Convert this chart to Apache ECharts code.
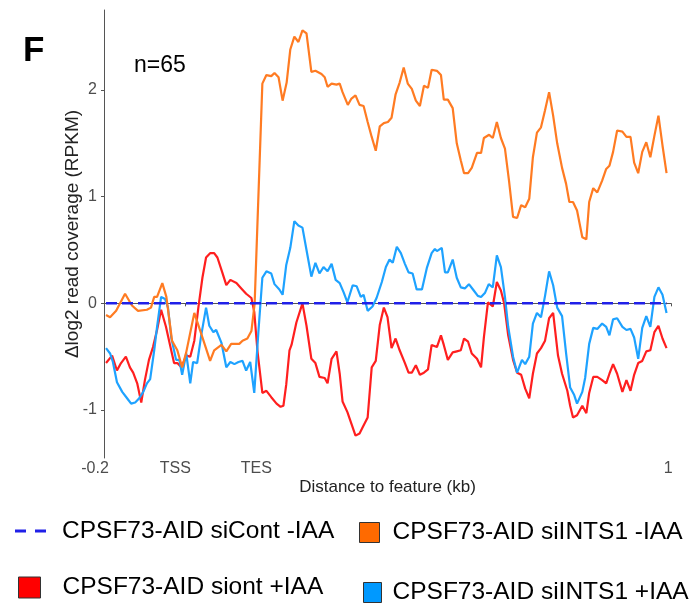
<!DOCTYPE html>
<html>
<head>
<meta charset="utf-8">
<script src="https://cdn.jsdelivr.net/npm/echarts@6/dist/echarts.min.js"></script>
<style>
  html, body { margin: 0; padding: 0; background: #fff; }
  #chart { width: 692px; height: 607px; }
</style>
</head>
<body>
<div id="chart"></div>
<script>
// x is the profile bin: 0 = -0.2 kb, 20 = TSS, 40 = TES, 140 = +1 kb
const tickBins = [0, 20, 40, 140];
const labelBins = [0, 17.6, 37.6, 139.3];
const labelNames = ['-0.2', 'TSS', 'TES', '1'];
const yTicks = [-1, 0, 1, 2];

const seriesNames = [
  'CPSF73-AID siCont -IAA',
  'CPSF73-AID siont +IAA',
  'CPSF73-AID siINTS1 -IAA',
  'CPSF73-AID siINTS1 +IAA'
];

// [bin, delta log2 RPKM]
const siContMinus = [[0.5, 0], [138.9, 0]];

const siContPlus = [
  [0.5,-0.56],[2.0,-0.49],[3.2,-0.63],[4.2,-0.56],[5.4,-0.50],[6.4,-0.60],[7.2,-0.65],[8.2,-0.75],
  [9.2,-0.93],[10.1,-0.72],[11.1,-0.53],[12.1,-0.41],[13.1,-0.25],[14.1,-0.06],[15.3,-0.22],[16.3,-0.39],
  [17.3,-0.56],[18.1,-0.56],[19.1,-0.60],[20.3,-0.49],[21.3,-0.50],[22.3,-0.35],[23.3,-0.04],[24.3,0.24],
  [25.2,0.43],[26.2,0.47],[27.2,0.47],[28.0,0.43],[29.2,0.29],[30.2,0.17],[31.2,0.22],[32.7,0.19],
  [33.9,0.14],[35.1,0.09],[36.4,0.05],[37.1,-0.08],[37.9,-0.45],[39.1,-0.84],[40.1,-0.82],[41.3,-0.88],
  [42.6,-0.94],[43.6,-0.97],[44.3,-0.96],[45.0,-0.76],[45.8,-0.44],[46.3,-0.39],[47.5,-0.18],[49.0,0.0],
  [50.0,-0.21],[51.2,-0.52],[52.2,-0.56],[53.2,-0.69],[54.5,-0.70],[55.2,-0.75],[56.2,-0.52],[57.4,-0.45],
  [58.2,-0.66],[58.9,-0.92],[60.1,-1.02],[61.1,-1.13],[62.1,-1.24],[63.1,-1.22],[63.9,-1.16],[65.1,-1.07],
  [66.1,-0.60],[67.1,-0.54],[68.1,-0.20],[69.1,-0.04],[70.0,-0.13],[71.0,-0.42],[72.0,-0.33],[73.0,-0.44],
  [74.3,-0.56],[75.2,-0.65],[76.0,-0.65],[77.0,-0.58],[78.0,-0.67],[79.0,-0.65],[80.0,-0.62],[80.9,-0.39],
  [82.2,-0.41],[83.2,-0.30],[83.9,-0.39],[84.9,-0.53],[86.1,-0.46],[87.1,-0.45],[88.1,-0.44],[88.9,-0.33],
  [89.9,-0.36],[90.8,-0.47],[92.1,-0.52],[93.1,-0.60],[93.8,-0.32],[94.8,0.01],[96.0,-0.03],[97.0,0.20],
  [98.0,0.12],[98.8,0.0],[99.8,-0.30],[101.0,-0.53],[102.0,-0.65],[103.0,-0.67],[104.0,-0.80],[105.0,-0.89],
  [105.9,-0.66],[106.9,-0.47],[107.9,-0.42],[108.9,-0.35],[109.9,-0.14],[110.9,-0.09],[112.1,-0.49],[113.1,-0.66],
  [114.4,-0.82],[115.1,-0.96],[115.8,-1.07],[116.8,-1.05],[118.1,-0.96],[119.1,-1.03],[119.8,-0.84],[120.8,-0.69],
  [121.8,-0.69],[123.0,-0.72],[124.0,-0.75],[124.8,-0.66],[125.7,-0.57],[126.7,-0.66],[128.0,-0.83],[129.0,-0.72],
  [130.0,-0.82],[130.9,-0.67],[131.9,-0.56],[132.9,-0.54],[133.9,-0.45],[134.9,-0.44],[135.9,-0.27],[136.9,-0.21],
  [137.9,-0.33],[138.9,-0.42]
];

const siInts1Minus = [
  [0.5,-0.11],[1.5,-0.13],[3.0,-0.07],[5.2,0.09],[6.9,-0.02],[8.4,-0.07],[10.6,-0.06],[11.6,-0.04],
  [12.4,0.06],[13.1,0.06],[14.4,0.19],[15.4,0.06],[16.8,-0.35],[18.1,-0.44],[19.3,-0.60],[20.3,-0.46],
  [22.3,-0.09],[24.3,-0.32],[26.2,-0.54],[27.2,-0.44],[29.0,-0.39],[30.2,-0.45],[31.4,-0.38],[33.4,-0.38],
  [34.2,-0.35],[35.4,-0.33],[36.4,-0.26],[37.2,0.0],[39.1,2.06],[40.1,2.14],[41.3,2.13],[42.1,2.16],
  [43.1,2.12],[44.1,1.90],[45.1,2.07],[46.0,2.38],[47.0,2.50],[48.0,2.45],[49.0,2.56],[50.0,2.53],
  [51.2,2.17],[52.2,2.18],[53.7,2.15],[54.5,2.12],[55.2,2.03],[56.2,2.06],[57.4,2.05],[58.2,2.06],
  [58.9,1.98],[60.2,1.86],[61.1,1.92],[62.1,1.95],[63.1,1.86],[64.1,1.85],[65.1,1.70],[66.1,1.56],
  [67.1,1.43],[68.1,1.66],[69.1,1.69],[70.1,1.70],[71.0,1.74],[72.0,1.96],[73.0,2.07],[74.0,2.21],
  [75.0,2.06],[76.0,2.01],[77.0,1.90],[78.0,1.85],[79.0,2.04],[80.0,2.02],[80.9,2.19],[82.2,2.18],
  [83.2,2.14],[83.9,1.91],[84.9,1.91],[86.1,1.83],[87.1,1.50],[88.1,1.34],[88.9,1.22],[89.9,1.22],
  [90.8,1.27],[92.1,1.41],[93.1,1.41],[93.8,1.55],[95.1,1.58],[96.0,1.55],[97.0,1.70],[98.0,1.55],
  [99.0,1.45],[100.0,1.15],[101.0,0.81],[102.0,0.80],[103.0,0.92],[104.0,0.90],[105.0,0.98],[105.9,1.37],
  [106.9,1.60],[107.9,1.65],[108.9,1.81],[109.9,1.98],[110.9,1.76],[111.9,1.50],[113.1,1.27],[114.1,1.12],
  [114.9,0.95],[115.8,0.95],[116.8,0.87],[118.1,0.62],[119.1,0.60],[119.8,0.95],[120.8,1.08],[121.8,1.04],
  [123.0,1.15],[124.0,1.26],[124.8,1.29],[125.7,1.42],[126.7,1.62],[128.0,1.61],[129.0,1.56],[130.0,1.56],
  [130.9,1.32],[131.9,1.22],[132.9,1.42],[133.9,1.51],[134.9,1.37],[135.9,1.57],[136.9,1.76],[137.9,1.48],
  [138.9,1.22]
];

const siInts1Plus = [
  [0.5,-0.42],[1.5,-0.47],[2.2,-0.55],[3.2,-0.74],[4.5,-0.83],[5.7,-0.89],[6.7,-0.94],[7.7,-0.93],
  [8.7,-0.89],[9.7,-0.83],[10.6,-0.75],[11.4,-0.71],[12.4,-0.44],[13.1,-0.22],[14.1,0.06],[15.1,0.04],
  [15.8,-0.04],[16.6,-0.32],[17.8,-0.53],[18.6,-0.53],[19.3,-0.67],[20.3,-0.47],[21.3,-0.75],[22.0,-0.55],
  [23.0,-0.56],[24.0,-0.30],[25.2,-0.04],[26.0,-0.21],[27.0,-0.27],[27.7,-0.25],[29.0,-0.37],[30.2,-0.60],
  [31.2,-0.55],[32.2,-0.57],[33.2,-0.55],[34.2,-0.54],[35.1,-0.63],[36.1,-0.55],[37.1,-0.84],[38.1,-0.28],
  [39.1,0.24],[40.1,0.30],[41.3,0.28],[42.1,0.18],[43.3,0.13],[44.1,0.08],[45.0,0.36],[46.0,0.52],
  [47.0,0.77],[48.0,0.73],[49.0,0.71],[50.0,0.50],[51.2,0.25],[52.2,0.38],[53.2,0.28],[54.2,0.34],
  [55.2,0.30],[56.2,0.37],[57.2,0.22],[58.2,0.19],[59.2,0.10],[60.1,0.01],[61.4,0.17],[62.4,0.16],
  [63.4,0.06],[64.1,0.08],[65.1,-0.07],[66.3,-0.03],[67.3,0.05],[68.6,0.20],[69.6,0.34],[70.5,0.41],
  [71.3,0.38],[72.3,0.53],[73.3,0.47],[74.3,0.37],[75.2,0.29],[76.2,0.28],[77.2,0.13],[78.5,0.13],
  [79.7,0.33],[80.9,0.47],[81.7,0.51],[82.2,0.49],[83.4,0.52],[84.2,0.29],[84.9,0.29],[86.1,0.41],
  [87.1,0.24],[88.1,0.15],[89.1,0.14],[90.1,0.18],[91.3,0.12],[92.3,0.07],[93.1,0.06],[94.1,0.10],
  [95.0,0.18],[96.0,0.15],[97.0,0.45],[98.0,0.34],[99.0,0.06],[99.8,-0.22],[101.0,-0.50],[102.0,-0.65],
  [103.2,-0.53],[104.0,-0.57],[105.0,-0.50],[105.9,-0.19],[106.9,-0.09],[107.9,-0.13],[108.9,0.07],[109.9,0.30],
  [110.9,0.17],[111.9,-0.04],[113.1,-0.12],[114.1,-0.47],[115.1,-0.79],[116.1,-0.86],[116.8,-0.94],[118.1,-0.83],
  [118.8,-0.70],[119.8,-0.38],[120.8,-0.23],[121.8,-0.24],[123.0,-0.19],[124.0,-0.22],[124.8,-0.30],[125.7,-0.15],
  [126.7,-0.14],[128.0,-0.22],[129.0,-0.25],[130.0,-0.24],[130.9,-0.32],[131.9,-0.52],[132.9,-0.23],[133.9,-0.12],
  [134.9,-0.22],[135.9,0.06],[136.9,0.15],[137.9,0.08],[138.9,-0.09]
];

const lineColors = ['#2020e8', '#ff1f1f', '#ff7b22', '#1ea2ff'];
const swatchColors = ['#2020e8', '#ff0000', '#ff6a00', '#0099ff'];

const chart = echarts.init(document.getElementById('chart'));
const axisFont = 'Liberation Sans, Arial, sans-serif';

function legendFor(i, left, top, w, h, gap) {
  const l = {
    data: [{ name: seriesNames[i], itemStyle: { color: swatchColors[i] } }],
    left: left, top: top, padding: 0,
    itemWidth: w, itemHeight: h,
    selectedMode: false,
    textStyle: { fontFamily: axisFont, fontSize: 24.5, color: '#000', padding: [0, 0, 0, gap] }
  };
  if (i === 0) {
    // two short dashes, like the dashed reference line
    l.icon = 'path://M0,0 h11 v3 h-11 z M20,0 h11 v3 h-11 z';
  } else {
    l.icon = 'rect';
    l.itemStyle = { borderColor: '#333', borderWidth: 1 };
  }
  return l;
}

chart.setOption({
  animation: false,
  backgroundColor: '#fff',
  title: [
    { text: 'F', left: 23, top: 34, padding: 0,
      textStyle: { fontFamily: axisFont, fontSize: 35, fontWeight: 'bold', color: '#000' } },
    { text: 'n=65', left: 134, top: 54, padding: 0,
      textStyle: { fontFamily: axisFont, fontSize: 23, fontWeight: 'normal', color: '#000' } }
  ],
  grid: { left: 104, right: 21, top: 10, bottom: 149 },
  xAxis: {
    type: 'value', min: 0, max: 140,
    name: 'Distance to feature (kb)', nameLocation: 'middle', nameGap: 21, nameMoveOverlap: false,
    nameTextStyle: { fontFamily: axisFont, fontSize: 17, color: '#222' },
    axisLine: { lineStyle: { color: '#555', width: 1 } },
    axisTick: { customValues: tickBins, length: 3, lineStyle: { color: '#555' } },
    axisLabel: {
      customValues: labelBins, margin: 3,
      fontFamily: axisFont, fontSize: 16, color: '#4d4d4d',
      formatter: v => {
        const t = labelNames[labelBins.indexOf(v)];
        return v === 0 ? '{a|' + t + '}' : t;
      },
      rich: { a: { fontFamily: axisFont, fontSize: 16, color: '#4d4d4d', padding: [0, 18, 0, 0] } }
    },
    splitLine: { show: false }
  },
  yAxis: {
    type: 'value', min: -1.45, max: 2.75,
    name: 'Δlog2 read coverage (RPKM)', nameLocation: 'middle', nameGap: 22, nameRotate: 90,
    nameMoveOverlap: false,
    nameTextStyle: { fontFamily: axisFont, fontSize: 19, color: '#222' },
    axisLine: { show: true, lineStyle: { color: '#555', width: 1 } },
    axisTick: { show: true, customValues: yTicks, length: 3, lineStyle: { color: '#555' } },
    axisLabel: { customValues: yTicks, margin: 7, fontFamily: axisFont, fontSize: 16, color: '#4d4d4d' },
    splitLine: { show: false }
  },
  legend: [
    legendFor(0, 15, 518.5, 31, 3, 11),
    legendFor(2, 359, 520, 20, 20, 8),
    legendFor(1, 18, 575, 22, 21, 17),
    legendFor(3, 363, 580, 18, 20, 6)
  ],
  series: [
    { name: seriesNames[1], type: 'line', data: siContPlus, symbol: 'none',
      color: lineColors[1], lineStyle: { width: 2.2, color: lineColors[1] } },
    { name: seriesNames[3], type: 'line', data: siInts1Plus, symbol: 'none',
      color: lineColors[3], lineStyle: { width: 2.2, color: lineColors[3] } },
    { name: seriesNames[2], type: 'line', data: siInts1Minus, symbol: 'none',
      color: lineColors[2], lineStyle: { width: 2.2, color: lineColors[2] } },
    { name: seriesNames[0], type: 'line', data: siContMinus, symbol: 'none',
      color: lineColors[0], lineStyle: { width: 2.5, type: [11, 5], color: lineColors[0] } }
  ]
});
</script>
</body>
</html>
